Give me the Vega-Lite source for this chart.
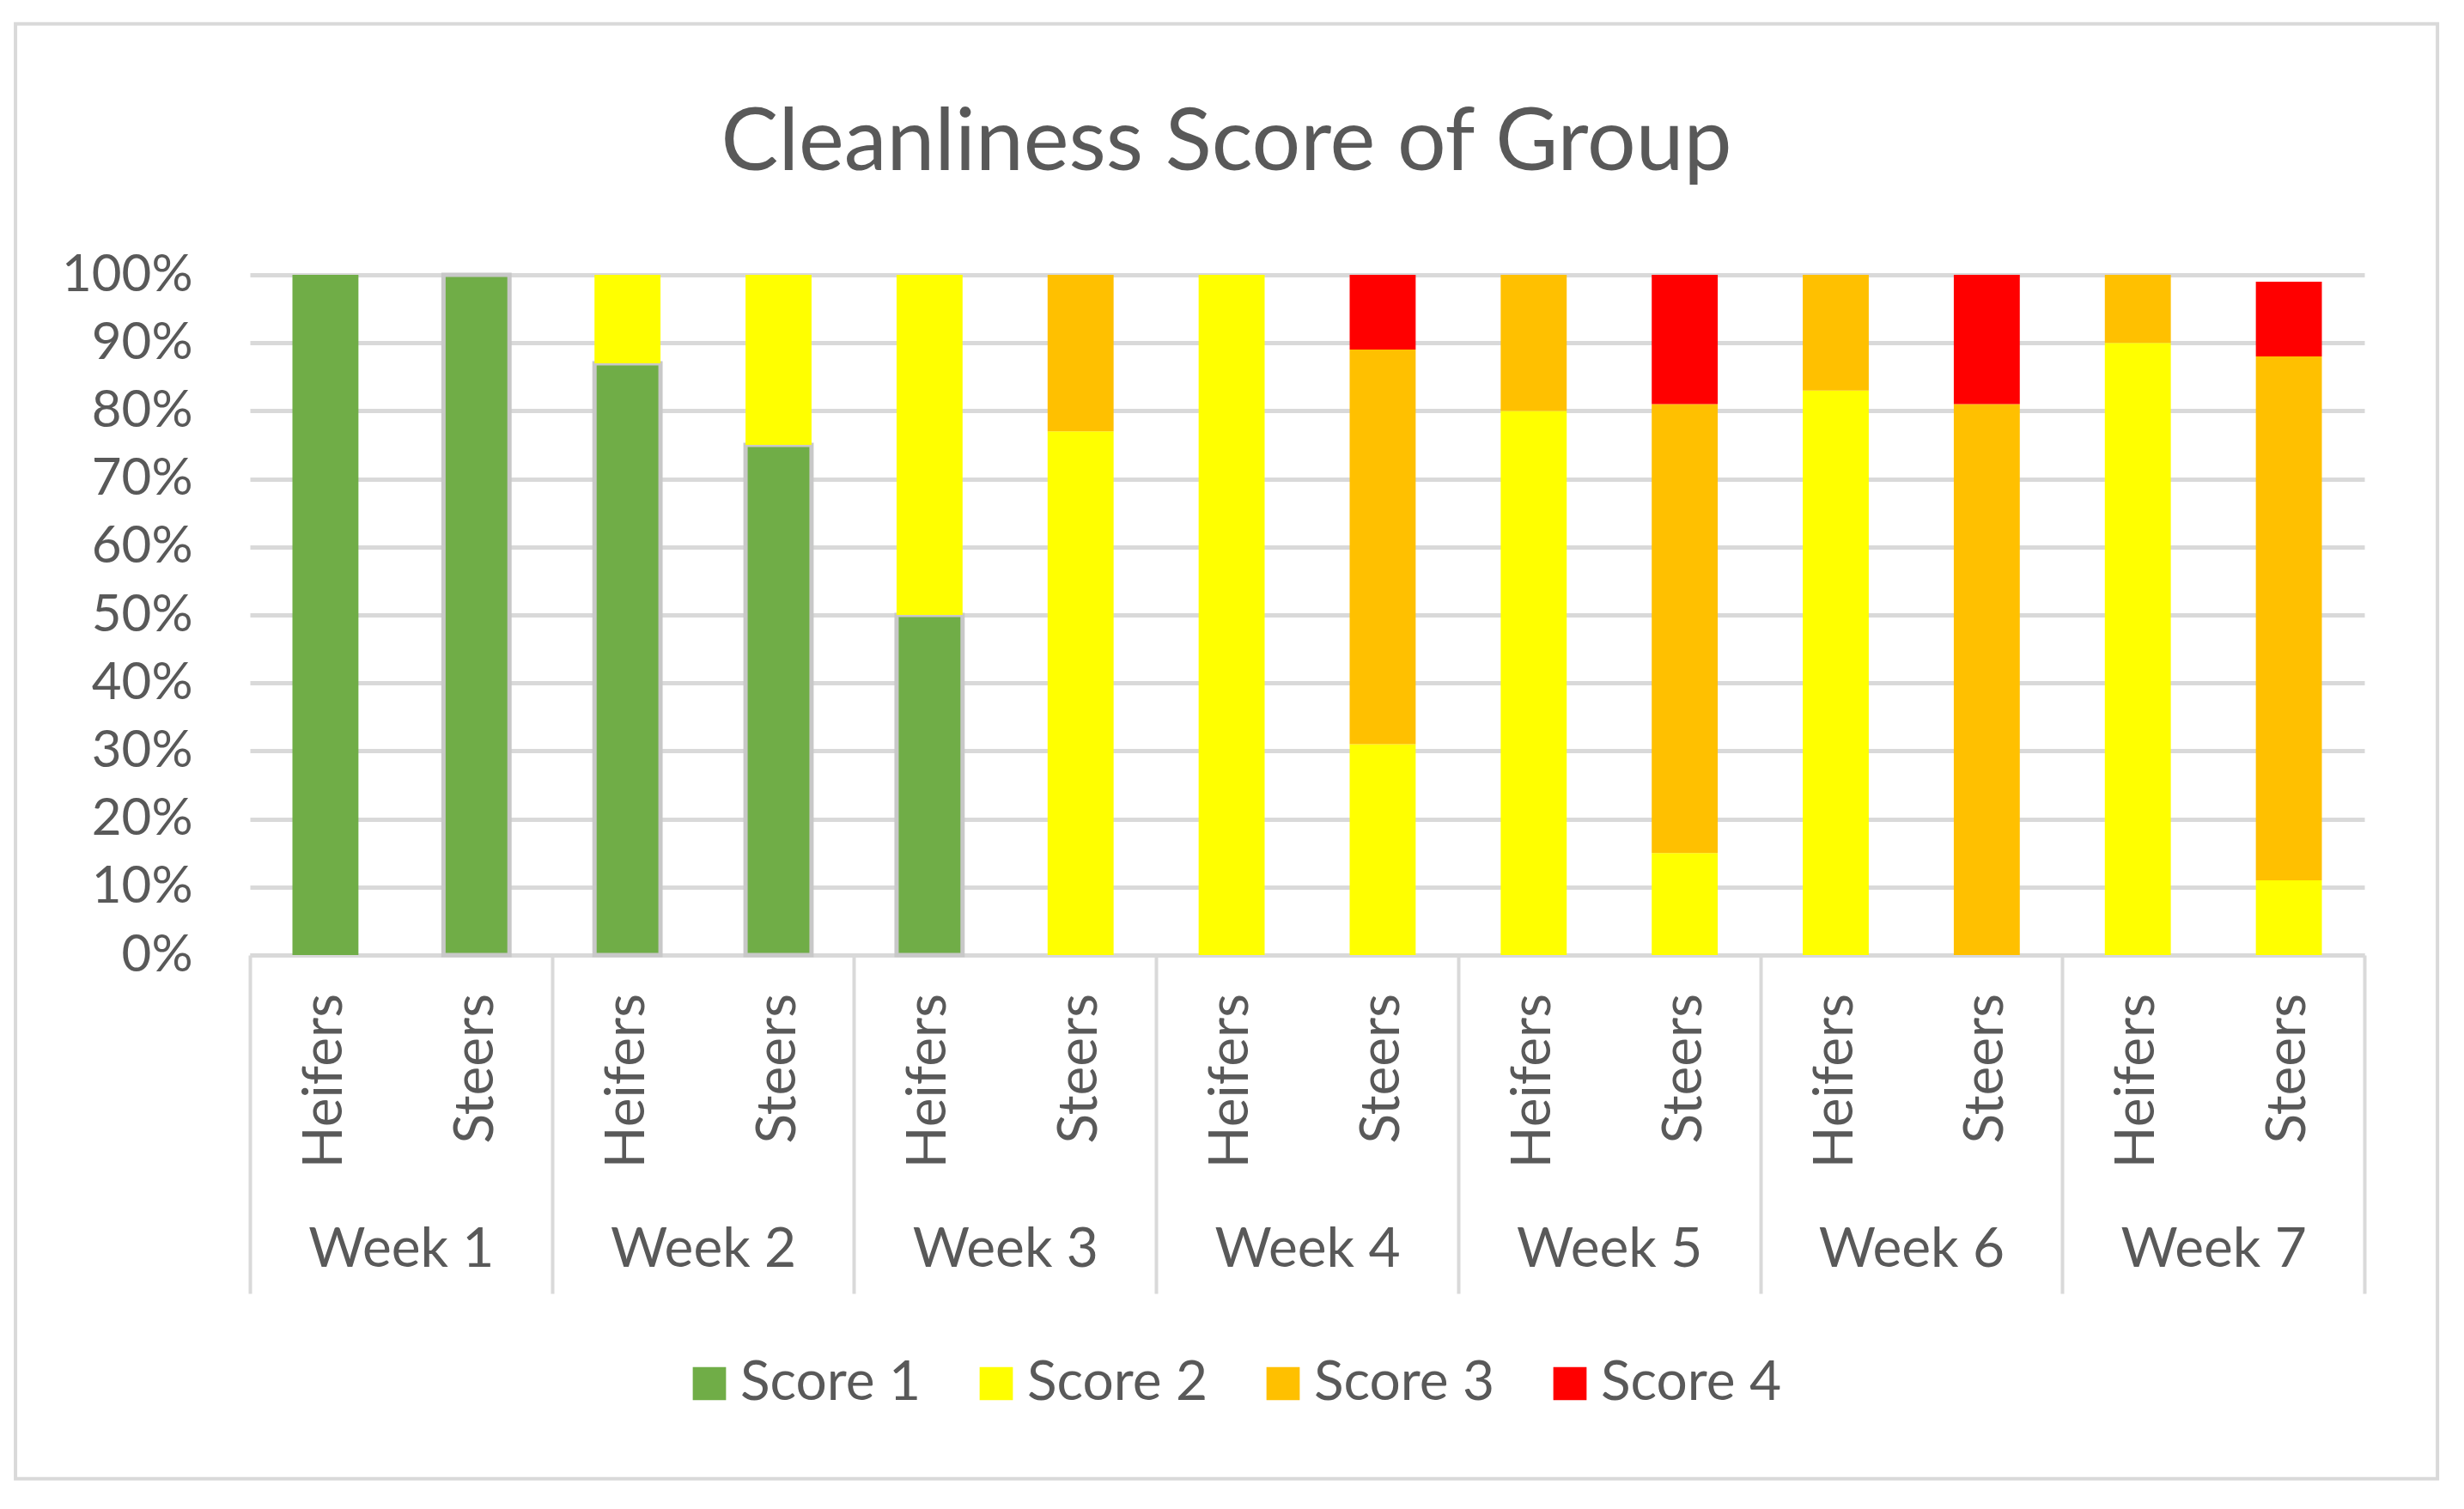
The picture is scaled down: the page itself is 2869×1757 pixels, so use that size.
{
  "$schema": "https://vega.github.io/schema/vega-lite/v6.json",
  "autosize": {"type": "none"},
  "width": 2462,
  "height": 792,
  "padding": {"left": 291, "top": 320, "right": 116, "bottom": 645},
  "background": "white",
  "title": {
    "text": "Cleanliness Score of Group",
    "font": "Lato",
    "fontSize": 100,
    "fontWeight": "normal",
    "color": "#595959",
    "anchor": "middle",
    "frame": "group",
    "baseline": "alphabetic",
    "dx": -94,
    "offset": -272
  },
  "config": {"view": {"stroke": null}, "font": "Lato"},
  "datasets": {
    "scores": [
      {"week": "Week 1", "group": "Heifers", "score": "Score 1", "value": 1.0},
      {"week": "Week 1", "group": "Steers", "score": "Score 1", "value": 1.0},
      {"week": "Week 2", "group": "Heifers", "score": "Score 1", "value": 0.87},
      {"week": "Week 2", "group": "Heifers", "score": "Score 2", "value": 0.13},
      {"week": "Week 2", "group": "Steers", "score": "Score 1", "value": 0.75},
      {"week": "Week 2", "group": "Steers", "score": "Score 2", "value": 0.25},
      {"week": "Week 3", "group": "Heifers", "score": "Score 1", "value": 0.5},
      {"week": "Week 3", "group": "Heifers", "score": "Score 2", "value": 0.5},
      {"week": "Week 3", "group": "Steers", "score": "Score 2", "value": 0.77},
      {"week": "Week 3", "group": "Steers", "score": "Score 3", "value": 0.23},
      {"week": "Week 4", "group": "Heifers", "score": "Score 2", "value": 1.0},
      {"week": "Week 4", "group": "Steers", "score": "Score 2", "value": 0.31},
      {"week": "Week 4", "group": "Steers", "score": "Score 3", "value": 0.58},
      {"week": "Week 4", "group": "Steers", "score": "Score 4", "value": 0.11},
      {"week": "Week 5", "group": "Heifers", "score": "Score 2", "value": 0.8},
      {"week": "Week 5", "group": "Heifers", "score": "Score 3", "value": 0.2},
      {"week": "Week 5", "group": "Steers", "score": "Score 2", "value": 0.15},
      {"week": "Week 5", "group": "Steers", "score": "Score 3", "value": 0.66},
      {"week": "Week 5", "group": "Steers", "score": "Score 4", "value": 0.19},
      {"week": "Week 6", "group": "Heifers", "score": "Score 2", "value": 0.83},
      {"week": "Week 6", "group": "Heifers", "score": "Score 3", "value": 0.17},
      {"week": "Week 6", "group": "Steers", "score": "Score 3", "value": 0.81},
      {"week": "Week 6", "group": "Steers", "score": "Score 4", "value": 0.19},
      {"week": "Week 7", "group": "Heifers", "score": "Score 2", "value": 0.9},
      {"week": "Week 7", "group": "Heifers", "score": "Score 3", "value": 0.1},
      {"week": "Week 7", "group": "Steers", "score": "Score 2", "value": 0.11},
      {"week": "Week 7", "group": "Steers", "score": "Score 3", "value": 0.77},
      {"week": "Week 7", "group": "Steers", "score": "Score 4", "value": 0.11}
    ]
  },
  "resolve": {"axis": {"x": "independent", "y": "independent"}},
  "layer": [
    {
      "data": {"name": "scores"},
      "mark": {"type": "bar", "strokeWidth": 5},
      "encoding": {
        "x": {
          "field": "week",
          "type": "nominal",
          "scale": {"paddingInner": 0, "paddingOuter": 0},
          "axis": {
            "title": null,
            "orient": "bottom",
            "labelAngle": 0,
            "labelFont": "Lato",
            "labelFontSize": 64,
            "labelColor": "#595959",
            "labelLimit": 400,
            "tickBand": "extent",
            "tickSize": 394,
            "tickColor": "#d9d9d9",
            "tickWidth": 4,
            "domainColor": "#d9d9d9",
            "domainWidth": 5,
            "labelPadding": -51,
            "labelBaseline": "middle",
            "grid": false
          }
        },
        "xOffset": {
          "field": "group",
          "type": "nominal",
          "scale": {"paddingInner": 0.563, "paddingOuter": 0.2815}
        },
        "y": {
          "field": "value",
          "type": "quantitative",
          "stack": "zero",
          "scale": {"domain": [0, 1], "nice": false},
          "axis": {
            "title": null,
            "format": ".0%",
            "values": [0, 0.1, 0.2, 0.3, 0.4, 0.5, 0.6, 0.7, 0.8, 0.9, 1],
            "grid": true,
            "gridColor": "#d9d9d9",
            "gridWidth": 5,
            "domain": false,
            "ticks": false,
            "labelFont": "Lato",
            "labelFontSize": 60,
            "labelColor": "#595959",
            "labelPadding": 67
          }
        },
        "order": {"field": "score", "type": "nominal", "sort": "ascending"},
        "color": {
          "field": "score",
          "type": "nominal",
          "scale": {
            "domain": ["Score 1", "Score 2", "Score 3", "Score 4"],
            "range": ["#70AD47", "#FFFF00", "#FFC000", "#FF0000"]
          },
          "legend": {
            "title": null,
            "orient": "none",
            "legendX": 503,
            "legendY": 1259,
            "direction": "horizontal",
            "symbolType": "square",
            "symbolSize": 1500,
            "labelFont": "Lato",
            "labelFontSize": 64,
            "labelColor": "#595959",
            "labelLimit": 500,
            "labelOffset": 4,
            "columnPadding": 55,
            "padding": 0,
            "encode": {
              "symbols": {
                "update": {
                  "stroke": {"signal": "datum.value === 'Score 1' ? '#c8c8c8' : 'transparent'"},
                  "strokeWidth": {"value": 5}
                }
              }
            }
          }
        },
        "stroke": {
          "condition": {
            "test": "datum.score === 'Score 1' && !(datum.week === 'Week 1' && datum.group === 'Heifers')",
            "value": "#c8c8c8"
          },
          "value": "transparent"
        }
      }
    },
    {
      "data": {"name": "scores"},
      "transform": [
        {"aggregate": [{"op": "count", "as": "n"}], "groupby": ["week", "group"]}
      ],
      "mark": {
        "type": "text",
        "angle": 270,
        "align": "right",
        "baseline": "middle",
        "font": "Lato",
        "fontSize": 64,
        "color": "#595959"
      },
      "encoding": {
        "x": {"field": "week", "type": "nominal", "axis": null},
        "xOffset": {"field": "group", "type": "nominal"},
        "y": {"datum": -0.057, "type": "quantitative", "axis": null},
        "text": {"field": "group", "type": "nominal"}
      }
    },
    {
      "data": {"values": [{}]},
      "mark": {"type": "rect", "fill": null, "stroke": "#d9d9d9", "strokeWidth": 4},
      "encoding": {
        "x": {"datum": "Week 1", "type": "nominal", "bandPosition": -0.776, "axis": null},
        "x2": {"datum": "Week 7", "bandPosition": 1.242},
        "y": {"datum": 1.369, "type": "quantitative", "axis": null},
        "y2": {"datum": -0.77}
      }
    }
  ]
}
